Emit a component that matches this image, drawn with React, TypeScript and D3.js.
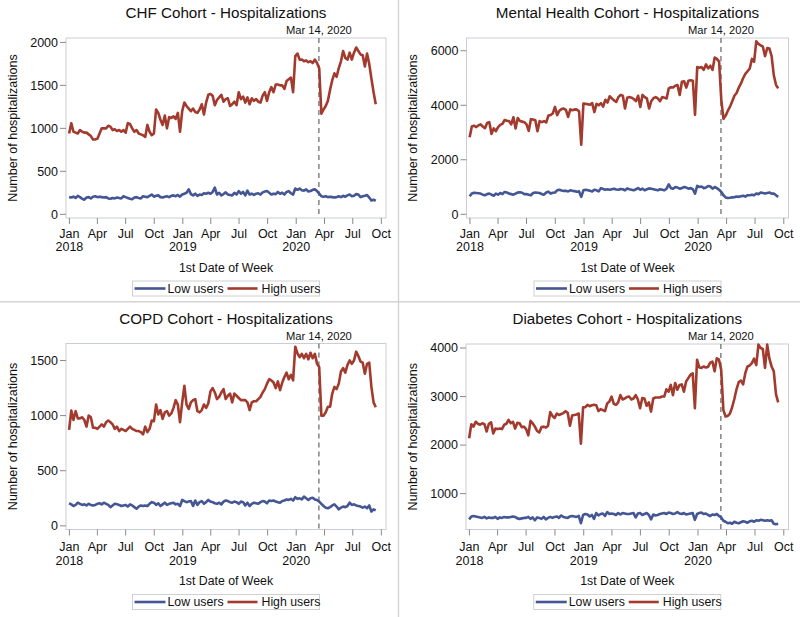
import React from 'react'
import * as d3 from 'd3'

// weekly counts, first date of week Dec 31 2017 .. Sep 13 2020 (142 weeks)
const chfLow = [
  200, 195, 205, 190, 215, 200, 180, 170, 195, 200, 185, 205, 210,
  200, 205, 200, 195, 200, 185, 180, 190, 185, 195, 190, 185, 210,
  200, 190, 180, 175, 195, 200, 190, 185, 210, 205, 200, 215, 230,
  205, 215, 220, 200, 195, 205, 210, 200, 215, 220, 210, 225, 205,
  230, 240, 250, 290, 235, 220, 240, 215, 230, 225, 245, 240, 250,
  240, 260, 310, 230, 250, 220, 235, 255, 230, 225, 220, 250, 230,
  270, 240, 260, 220, 275, 230, 240, 225, 240, 245, 230, 255, 265,
  270, 250, 230, 240, 235, 260, 240, 250, 230, 260, 270, 245, 230,
  300, 285, 300, 280, 275, 290, 265, 270, 285, 290, 270, 240,
  210, 205, 210, 200, 205, 200, 195, 200, 210, 200, 215, 205, 220, 230, 210, 215, 235, 230, 200, 210, 215, 225, 195, 160, 170, 155,
]
const chfHigh = [
  940, 1060, 960, 950, 940, 980, 960, 950, 950, 930, 910, 870, 870,
  880, 940, 1000, 1000, 1000, 1030, 1020, 980, 990, 970, 980, 960, 980,
  950, 1060, 1050, 1000, 960, 980, 940, 930, 920, 900, 1040, 960, 920,
  940, 1220, 1180, 1100, 1040, 1150, 1000, 1130, 1120, 1140, 1110, 1180, 960,
  1200, 1300, 1260, 1230, 1200, 1230, 1190, 1180, 1220, 1280, 1160, 1300, 1390,
  1400, 1380, 1270, 1330, 1360, 1390, 1310, 1340, 1350, 1260, 1280, 1310, 1270,
  1420, 1340, 1370, 1300, 1360, 1280, 1350, 1320, 1340, 1310, 1300, 1380, 1420,
  1320, 1420, 1480, 1420, 1510, 1510, 1500, 1500, 1460, 1550, 1570, 1590, 1420,
  1840, 1870, 1800, 1800, 1780, 1790, 1770, 1780, 1760, 1800, 1760, 1700,
  1170, 1220, 1260, 1320, 1450, 1560, 1640, 1600, 1700, 1780, 1900, 1820, 1800, 1880, 1800, 1880, 1940, 1900, 1860, 1850, 1720, 1870, 1750, 1580, 1420, 1280,
]
const mhLow = [
  660, 760, 790, 780, 770, 760, 720, 700, 740, 760, 720, 680, 760,
  720, 780, 740, 820, 800, 760, 740, 720, 760, 800, 810, 790, 740,
  740, 720, 700, 780, 800, 790, 780, 740, 720, 800, 830, 760, 790,
  800, 880, 900, 870, 860, 860, 840, 880, 860, 850, 830, 840, 640,
  880, 900, 880, 860, 840, 900, 880, 840, 960, 930, 900, 920, 900,
  920, 940, 910, 900, 930, 920, 880, 950, 920, 900, 880, 920, 960,
  900, 940, 880, 920, 950, 940, 920, 900, 880, 920, 900, 880, 940,
  1100, 960, 940, 1000, 980, 940, 960, 1000, 980, 940, 960, 920, 760,
  1040, 1000, 1020, 960, 980, 1040, 1020, 940, 1000, 960, 900, 820,
  700, 620, 600, 610, 620, 630, 650, 640, 660, 680, 650, 700, 700, 720, 700, 760, 740, 800, 780, 760, 780, 800, 760, 760, 700, 640,
]
const mhHigh = [
  2830, 3220, 3250, 3200, 3260, 3300, 3220, 3160, 3350, 3380, 2950, 3150, 3050,
  3200, 3280, 3320, 3460, 3430, 3420, 3300, 3560, 3150, 3530, 3420, 3400, 3380,
  3300, 3060, 3490, 3480, 3450, 3050, 3420, 3380, 3420, 3370, 3620, 3640, 3700,
  3940, 3640, 3800, 3860, 3880, 3830, 3570, 3850, 3820, 3850, 3840, 3780, 2550,
  4060, 4050, 4040, 4020, 4080, 3750, 4050, 4000, 4080, 3950, 4200, 4100, 4330,
  4250, 4180, 4120, 4300, 4380, 4350, 3880, 4280, 4300, 4280, 4230, 4150, 4350,
  3940, 4380, 4300, 4250, 3880, 4150, 4260, 4300, 4250, 4150, 4300, 4280, 4250,
  4620, 4660, 4650, 4720, 4740, 4380, 4860, 4880, 4650, 4900, 4920, 4900, 3650,
  5400, 5380, 5400, 5300, 5500, 5350, 5450, 5300, 5750, 5700, 5600, 4200,
  3500, 3620, 3800, 3950, 4150, 4350, 4450, 4650, 4800, 5000, 5150, 5250, 5350, 5700, 5600, 6350, 6250, 6200, 6150, 5800, 6100, 6080, 5800, 5100, 4750, 4620,
]
const copdLow = [
  205, 195, 180, 190, 210, 200, 190, 195, 185, 200, 190, 185, 190,
  200, 205, 195, 210, 200, 190, 170, 185, 200, 195, 190, 180, 185,
  190, 175, 195, 185, 170, 155, 175, 185, 180, 185, 180, 200, 215,
  210, 190, 205, 180, 195, 210, 190, 200, 205, 210, 195, 200, 180,
  235, 225, 215, 220, 225, 180, 230, 190, 215, 225, 200, 215, 235,
  220, 215, 205, 200, 210, 195, 220, 230, 225, 215, 210, 220, 215,
  200, 220, 215, 185, 210, 180, 200, 210, 205, 200, 215, 225, 220,
  205, 230, 225, 230, 220, 215, 210, 225, 230, 240, 235, 245, 230,
  260, 245, 250, 240, 265, 250, 235, 250, 255, 240, 235, 220,
  200, 180, 165, 160, 170, 185, 195, 175, 150, 165, 175, 170, 180, 210, 190, 195, 185, 180, 175, 165, 175, 160, 185, 130, 150, 140,
]
const copdHigh = [
  870, 1045, 960, 1040, 975, 975, 985, 960, 900, 1000, 985, 890, 890,
  880, 900, 920, 900, 940, 955, 940, 920, 880, 900, 860, 880, 870,
  860, 880, 900, 880, 870, 860, 860, 850, 830, 900, 850, 880, 955,
  950, 1100, 1010, 1050, 970, 1030, 1040, 1000, 1020, 1070, 1140, 1100, 940,
  1120, 1270, 1100, 1060, 1120, 1140, 1150, 1040, 1030, 1050, 1100, 1070, 1110,
  1220, 1250, 1210, 1150, 1170, 1210, 1240, 1150, 1180, 1200, 1120, 1200, 1180,
  1160, 1140, 1140, 1140, 1120, 1050, 1120, 1130, 1130, 1150, 1170, 1210, 1240,
  1290, 1330, 1320, 1300, 1250, 1310, 1230, 1300, 1350, 1390, 1330, 1370, 1320,
  1625, 1565, 1530, 1560, 1520, 1560, 1510, 1570, 1520, 1560, 1470, 1440,
  1000, 1000, 1030, 1080, 1080, 1200, 1260, 1240, 1290, 1400, 1430, 1390, 1460, 1500, 1470, 1500, 1580, 1540, 1490, 1480, 1380, 1470, 1480, 1260, 1120, 1075,
]
const diabLow = [
  470, 530, 540, 530, 520, 510, 500, 520, 490, 510, 500, 500, 520,
  480, 510, 500, 520, 510, 510, 520, 530, 520, 490, 480, 490, 500,
  500, 520, 480, 510, 450, 510, 500, 480, 520, 470, 500, 520, 500,
  520, 530, 500, 550, 520, 510, 500, 530, 540, 530, 520, 540, 390,
  560, 580, 570, 530, 560, 480, 600, 550, 580, 590, 540, 620, 580,
  590, 580, 560, 600, 570, 600, 590, 580, 580, 590, 600, 510, 590,
  600, 560, 580, 600, 560, 470, 570, 550, 560, 580, 590, 600, 580,
  610, 600, 580, 590, 620, 590, 580, 600, 570, 580, 590, 600, 460,
  580, 600, 610, 580, 590, 560, 540, 570, 560, 580, 540, 510,
  440, 420, 390, 400, 380, 420, 400, 390, 410, 430, 420, 400, 430, 440, 420, 450, 440, 460, 450, 440, 450, 440, 450, 380, 370, 380,
]
const diabHigh = [
  2140, 2430, 2380, 2480, 2440, 2420, 2450, 2430, 2280, 2440, 2470, 2240, 2340,
  2330, 2340, 2330, 2420, 2440, 2520, 2450, 2480, 2340, 2460, 2450, 2370, 2380,
  2330, 2200, 2500, 2450, 2380, 2290, 2260, 2370, 2380, 2360, 2400, 2680, 2600,
  2560, 2650, 2620, 2640, 2660, 2700, 2660, 2400, 2610, 2620, 2630, 2650, 2030,
  2780, 2780, 2830, 2800, 2820, 2830, 2820, 2700, 2740, 2720, 2700, 2860, 2900,
  3000, 2850, 2830, 2880, 3030, 2940, 2960, 2990, 3000, 2940, 2960, 3030, 2940,
  2760, 2970, 2960, 2810, 2880, 2690, 2960, 2980, 2980, 2980, 3000, 3000, 3150,
  3100, 3240, 3030, 3280, 3140, 3240, 3250, 3100, 3310, 3380, 3450, 3480, 2760,
  3760, 3600, 3590, 3620, 3600, 3610, 3700, 3720, 3520, 3790, 3760, 3550,
  2720, 2590, 2600, 2650, 2780, 2950, 3150, 3300, 3330, 3250, 3480, 3620, 3640, 3690, 3780, 3650, 4070, 4000, 3980, 3590, 4070, 3780, 3620, 3520, 3050, 2880,
]

const chfTicks = [0, 500, 1000, 1500, 2000]
const mhTicks = [0, 2000, 4000, 6000]
const copdTicks = [0, 500, 1000, 1500]
const diabTicks = [1000, 2000, 3000, 4000]
const monthNames = ['Jan', 'Apr', 'Jul', 'Oct']

const weekDates = d3.timeWeek.range(new Date(2017, 11, 31), new Date(2020, 8, 14))
const tickDates = d3.timeMonth.every(3)!.range(new Date(2018, 0, 1), new Date(2020, 9, 2))
const xDomain = [new Date(2017, 11, 21), new Date(2020, 9, 16)]
const covidDate = new Date(2020, 2, 14)

const BLUE = '#445694'
const RED = '#A23A2E'
const INK = '#111'
const FONT = '"Liberation Sans", Arial, sans-serif'

const panels = [
  { title: 'CHF Cohort - Hospitalizations', low: chfLow, high: chfHigh, yDomain: [-43, 2051], ticks: chfTicks, box: { l: 66, r: 386, t: 38, b: 218 }, ylx: 13, gap: 0 },
  { title: 'Mental Health Cohort - Hospitalizations', low: mhLow, high: mhHigh, yDomain: [-136, 6468], ticks: mhTicks, box: { l: 466.5, r: 788.5, t: 38, b: 218 }, ylx: 413, gap: 0 },
  { title: 'COPD Cohort - Hospitalizations', low: copdLow, high: copdHigh, yDomain: [-33, 1654], ticks: copdTicks, box: { l: 66, r: 386, t: 343.5, b: 529.5 }, ylx: 13, gap: 2 },
  { title: 'Diabetes Cohort - Hospitalizations', low: diabLow, high: diabHigh, yDomain: [261, 4083], ticks: diabTicks, box: { l: 466, r: 788.5, t: 344, b: 529.5 }, ylx: 413, gap: 2 },
]

function Panel({ p }: { p: any }) {
  const { box } = p
  const x = d3.scaleTime().domain(xDomain).range([box.l, box.r])
  const y = d3.scaleLinear().domain(p.yDomain).range([box.b, box.t])
  const line = d3.line<number>().x((_, i) => x(weekDates[i])).y(d => y(d))
  const cx = (box.l + box.r) / 2
  const cy = (box.t + box.b) / 2
  const vx = x(covidDate)
  const ab = box.b + p.gap
  const lx = cx - 93.5, ly = ab + 70.5

  return (
    <g fontFamily={FONT}>
      <text x={cx} y={box.t - 20} textAnchor="middle" fontSize={15.2} fill={INK}>{p.title}</text>
      <rect x={box.l} y={box.t} width={box.r - box.l} height={box.b - box.t} fill="none" stroke="#c9ced6" strokeWidth={1} />
      {p.ticks.map((t: number) => (
        <g key={t}>
          <line x1={box.l - 6} x2={box.l} y1={y(t)} y2={y(t)} stroke="#8a8a8a" />
          <text x={box.l - 8} y={y(t)} dy="0.35em" textAnchor="end" fontSize={12.5} fill={INK}>{t}</text>
        </g>
      ))}
      <text transform={`translate(${p.ylx},${cy}) rotate(-90)`} textAnchor="middle" dominantBaseline="central" fontSize={12.5} fill={INK}>Number of hospitalizations</text>
      {tickDates.map((d, i) => (
        <g key={i}>
          <line x1={x(d)} x2={x(d)} y1={box.b} y2={box.b + 6} stroke="#8a8a8a" />
          <text x={x(d)} y={ab + 19.5} textAnchor="middle" fontSize={12.5} fill={INK}>{monthNames[d.getMonth() / 3]}</text>
          {d.getMonth() === 0 && <text x={x(d)} y={ab + 33} textAnchor="middle" fontSize={12.5} fill={INK}>{d.getFullYear()}</text>}
        </g>
      ))}
      <text x={cx} y={ab + 53.5} textAnchor="middle" fontSize={12.3} fill={INK}>1st Date of Week</text>
      <line x1={vx} x2={vx} y1={box.t} y2={box.b} stroke="#707070" strokeWidth={1.3} strokeDasharray="5,4" />
      <text x={vx} y={box.t - 4} textAnchor="middle" fontSize={11.2} fill={INK}>Mar 14, 2020</text>
      <path d={line(p.low) ?? ''} fill="none" stroke={BLUE} strokeWidth={2.6} strokeLinejoin="round" />
      <path d={line(p.high) ?? ''} fill="none" stroke={RED} strokeWidth={2.6} strokeLinejoin="round" />
      <rect x={lx} y={ly - 7.5} width={187} height={15} fill="none" stroke="#d0d0d0" />
      <line x1={lx + 2} x2={lx + 33} y1={ly} y2={ly} stroke={BLUE} strokeWidth={2.6} />
      <text x={lx + 35} y={ly} dy="0.35em" fontSize={12.3} fill={INK}>Low users</text>
      <line x1={lx + 95} x2={lx + 125} y1={ly} y2={ly} stroke={RED} strokeWidth={2.6} />
      <text x={lx + 129} y={ly} dy="0.35em" fontSize={12.3} fill={INK}>High users</text>
    </g>
  )
}

export default function App() {
  return (
    <svg width={800} height={617} style={{ position: 'absolute', left: 0, top: 0, background: '#fff' }}>
      <line x1={0} x2={800} y1={301.7} y2={301.7} stroke="#d4d4d4" strokeWidth={1.4} />
      <line x1={398.5} x2={398.5} y1={0} y2={617} stroke="#d4d4d4" strokeWidth={1.4} />
      {panels.map((p, i) => <Panel key={i} p={p} />)}
    </svg>
  )
}
